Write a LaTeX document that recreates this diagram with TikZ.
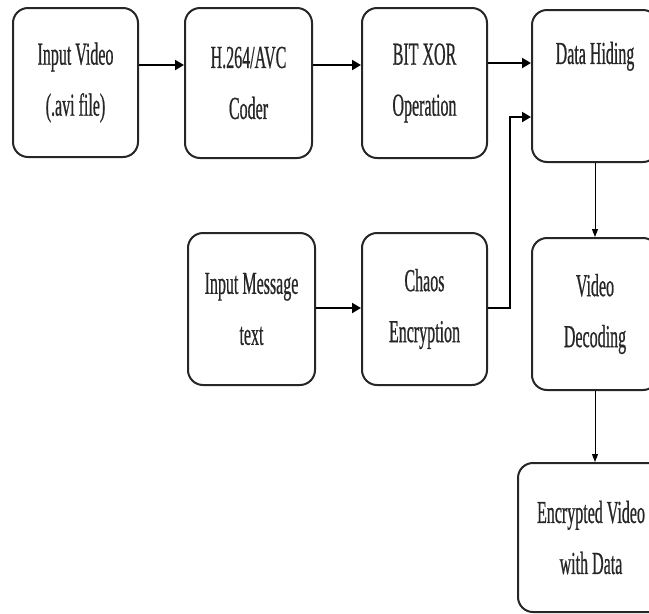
\documentclass[tikz,border=0pt]{standalone}
\usepackage{fontspec}
\setmainfont{Liberation Serif}[FakeStretch=0.5,FakeBold=0.6]
\usetikzlibrary{arrows.meta}
\begin{document}
\begin{tikzpicture}[x=1pt,y=-1pt,
  box/.style={draw=black!85,line width=2pt,rounded corners=15pt,align=center,
    inner sep=0pt,font=\fontsize{32}{51}\selectfont,text=black!85},
  harr/.style={line width=2pt,-{Triangle[length=9pt,width=10pt]}},
  varr/.style={line width=1pt,-{Triangle[length=8pt,width=6pt]}}]
\useasboundingbox (0,0) rectangle (649,614);
\node[box,minimum width=125pt,minimum height=149pt] (iv) at (75.5,82.5) {Input Video\\(.avi file)};
\node[box,minimum width=127pt,minimum height=150pt] (h264) at (248.5,83) {H.264/AVC\\Coder};
\node[box,minimum width=125pt,minimum height=150pt] (xor) at (424.5,83) {BIT XOR\\Operation};
\node[box,minimum width=126pt,minimum height=152pt] (dh) at (595,86) {Data Hiding\\\strut};
\node[box,minimum width=127pt,minimum height=152pt] (msg) at (251.5,309) {Input Message\\text};
\node[box,minimum width=125pt,minimum height=152pt] (chaos) at (424.5,309) {Chaos\\Encryption};
\node[box,minimum width=126pt,minimum height=152pt] (vd) at (595,314) {Video\\Decoding};
\node[box,minimum width=146pt,minimum height=149pt] (enc) at (591,537.5) {Encrypted Video\\with Data};
\coordinate (j) at (510,308);
\draw[harr] (iv.east |- 0,65) -- (h264.west |- 0,65);
\draw[harr] (h264.east |- 0,65) -- (xor.west |- 0,65);
\draw[harr] (xor.east |- 0,63) -- (dh.west |- 0,63);
\draw[harr] (msg.east |- 0,308) -- (chaos.west |- 0,308);
\draw[harr] (chaos.east |- j) -- (j) -- (j |- 0,117) -- (dh.west |- 0,117);
\draw[varr] (dh.south) -- (vd.north);
\draw[varr] (vd.south) -- (vd.south |- enc.north);
\end{tikzpicture}
\end{document}
